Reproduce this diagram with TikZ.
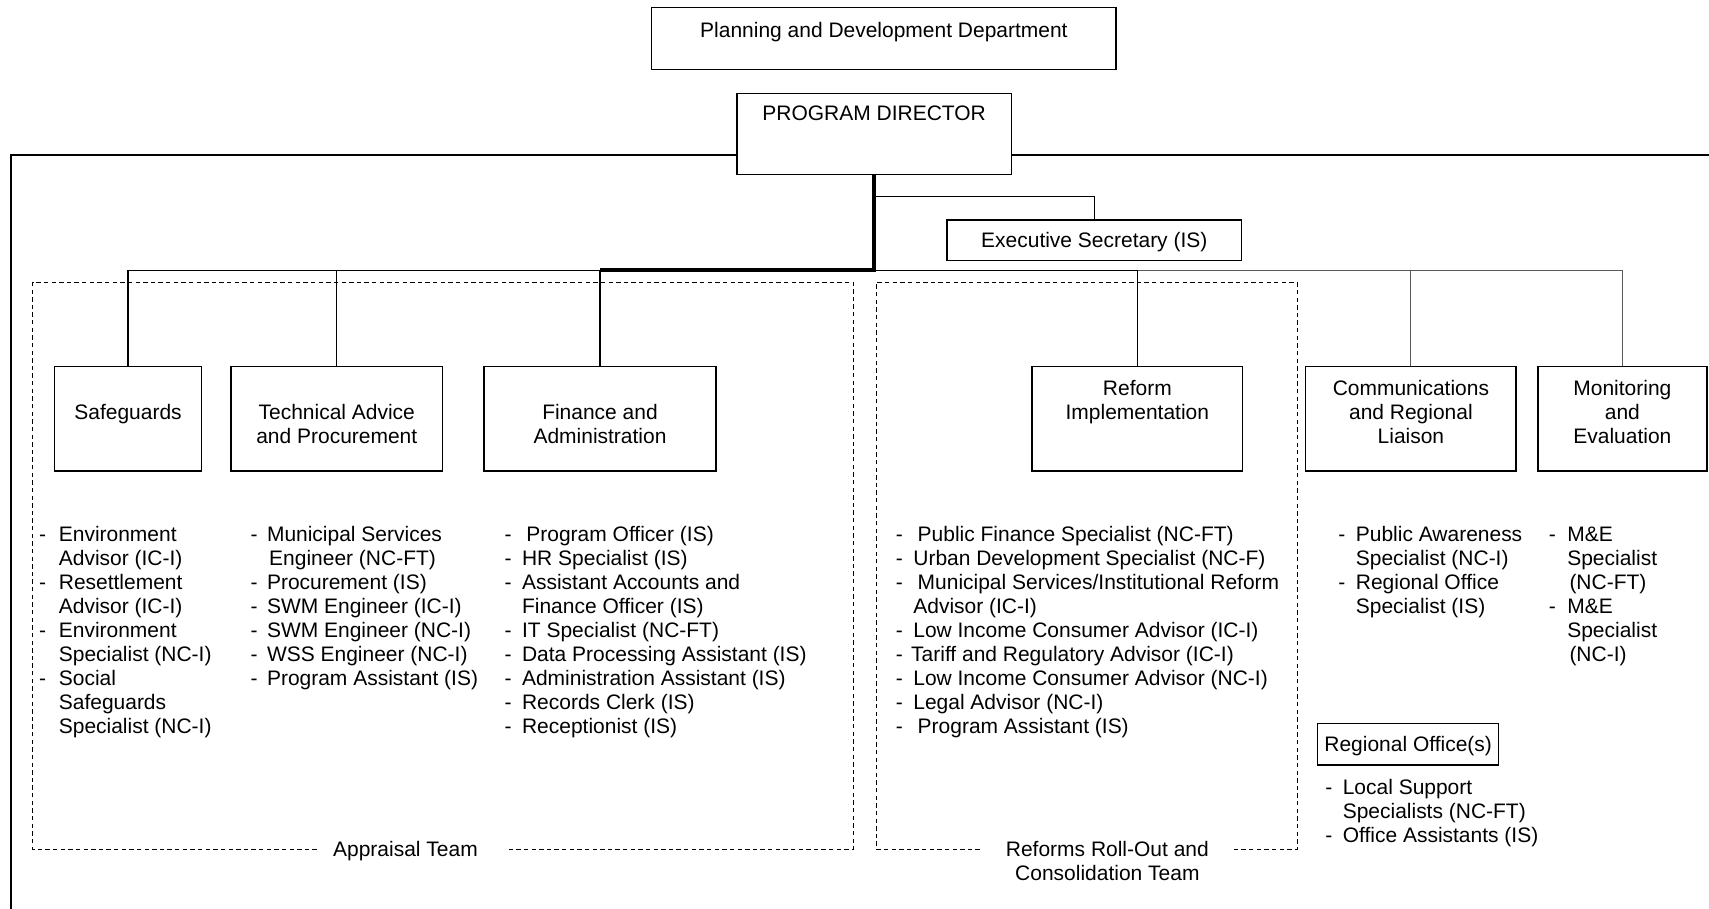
\documentclass[tikz,border=0pt]{standalone}
\usepackage{fontspec}
\setmainfont{Liberation Sans}
\newcommand\dsh[1]{\makebox[#1][l]{-}}
\newcommand\ind[1]{\hspace*{#1}}
\newcommand\fs{\fontsize{19.25}{22.1}\selectfont}
\begin{document}
\begin{tikzpicture}[x=1pt,y=-1pt,
  every node/.style={inner sep=0pt,outer sep=0pt,font=\fs},
  box/.style={draw,line width=1.3pt,fill=white},
  conn/.style={line width=1.2pt},
  thickconn/.style={line width=3.4pt},
  grayconn/.style={line width=0.9pt,draw=black!65},
  frame/.style={line width=2pt},
  dashbox/.style={line width=0.9pt,dash pattern=on 4pt off 3pt},
  lst/.style={anchor=base west,align=left},
  ttl/.style={anchor=base,align=center}]
\useasboundingbox (0,0) rectangle (1568,834);

% coordinates
\coordinate (fl) at (10,142);
\coordinate (fb) at (10,834);
\coordinate (fr) at (1568,142);
\coordinate (bus) at (802,248);
\coordinate (esy) at (802,180);

% top boxes
\node[box,minimum width=426pt,minimum height=57pt] (pdd) at (811,35.5) {};
\node[anchor=base] (pddt) at (811,34.5) {Planning and Development Department};

% frame
\draw[frame] (676,142) -- (fl) -- (fb);
\draw[frame] (928,142) -- (fr);

\node[box,minimum width=252pt,minimum height=74pt] (pd) at (802,123) {};
\node[anchor=base] (pdt) at (802,110.5) {PROGRAM DIRECTOR};

\node[box,minimum width=270pt,minimum height=37pt] (es) at (1004,220.5) {};
\node[anchor=base] (est) at (1004,227.5) {Executive Secretary (IS)};

% unit boxes
\node[box,minimum width=135pt,minimum height=96pt] (sg) at (117.5,384) {};
\node[box,minimum width=194pt,minimum height=96pt] (ta) at (309,384) {};
\node[box,minimum width=213pt,minimum height=96pt] (fa) at (550.5,384) {};
\node[box,minimum width=193pt,minimum height=96pt] (ri) at (1043.5,384) {};
\node[box,minimum width=193pt,minimum height=96pt] (cr) at (1294.5,384) {};
\node[box,minimum width=155pt,minimum height=96pt] (me) at (1488.5,384) {};

% titles (base anchor = baseline of the last line)
\node[ttl] (sgt) at (117.5,384.5) {Safeguards};
\node[ttl] (tat) at (309,406.6) {Technical Advice\\and Procurement};
\node[ttl] (fat) at (550.5,406.6) {Finance and\\Administration};
\node[ttl] (rit) at (1043.5,384.6) {Reform\\Implementation};
\node[ttl] (crt) at (1294.5,406.7) {Communications\\and Regional\\Liaison};
\node[ttl] (met) at (1488.5,406.7) {Monitoring\\and\\Evaluation};

% connectors
\draw[conn] (sg.north |- bus) -- (ri.north |- bus);
\draw[grayconn] (ri.north |- bus) -- (me.north |- bus);
\draw[conn] (sg.north |- bus) -- (sg.north);
\draw[conn] (ta.north |- bus) -- (ta.north);
\draw[conn] (fa.north |- bus) -- (fa.north);
\draw[conn] (ri.north |- bus) -- (ri.north);
\draw[grayconn] (cr.north |- bus) -- (cr.north);
\draw[grayconn] (me.north |- bus) -- (me.north);
\draw[thickconn] (pd.south) -- (bus) -- (fa.north |- bus);
\draw[conn] (esy) -| (es.north);

% dashed team frames
\node[anchor=base] (apl) at (372,785.5) {Appraisal Team};
\draw[dashbox] ([xshift=-15pt]apl.west |- 0,779) -- (30,779) -- (30,259) -- (783,259) -- (783,779) -- ([xshift=26pt]apl.east |- 0,779);
\node[ttl] (rcl) at (1016,807.6) {Reforms Roll-Out and\\Consolidation Team};
\draw[dashbox] (899,779) -- (804,779) -- (804,259) -- (1190,259) -- (1190,779) -- (1131,779);

% lists
\node[lst] (sgl) at (36,673.3) {\dsh{18pt}Environment\\\ind{18pt}Advisor (IC-I)\\\dsh{18pt}Resettlement\\\ind{18pt}Advisor (IC-I)\\\dsh{18pt}Environment\\\ind{18pt}Specialist (NC-I)\\\dsh{18pt}Social\\\ind{18pt}Safeguards\\\ind{18pt}Specialist (NC-I)};
\node[lst] (tal) at (230,629.1) {\dsh{15pt}Municipal Services\\\ind{17pt}Engineer (NC-FT)\\\dsh{15pt}Procurement (IS)\\\dsh{15pt}SWM Engineer (IC-I)\\\dsh{15pt}SWM Engineer (NC-I)\\\dsh{15pt}WSS Engineer (NC-I)\\\dsh{15pt}Program Assistant (IS)};
\node[lst] (fal) at (463,673.3) {\dsh{20pt}Program Officer (IS)\\\dsh{16pt}HR Specialist (IS)\\\dsh{16pt}Assistant Accounts and\\\ind{16pt}Finance Officer (IS)\\\dsh{16pt}IT Specialist (NC-FT)\\\dsh{16pt}Data Processing Assistant (IS)\\\dsh{16pt}Administration Assistant (IS)\\\dsh{16pt}Records Clerk (IS)\\\dsh{16pt}Receptionist (IS)};
\node[lst] (ril) at (822,673.3) {\dsh{20pt}Public Finance Specialist (NC-FT)\\\dsh{16pt}Urban Development Specialist (NC-F)\\\dsh{20pt}Municipal Services/Institutional Reform\\\ind{16pt}Advisor (IC-I)\\\dsh{16pt}Low Income Consumer Advisor (IC-I)\\\dsh{14pt}Tariff and Regulatory Advisor (IC-I)\\\dsh{16pt}Low Income Consumer Advisor (NC-I)\\\dsh{16pt}Legal Advisor (NC-I)\\\dsh{20pt}Program Assistant (IS)};
\node[lst] (crl) at (1228,562.8) {\dsh{16pt}Public Awareness\\\ind{16pt}Specialist (NC-I)\\\dsh{16pt}Regional Office\\\ind{16pt}Specialist (IS)};
\node[lst] (mel) at (1421,607) {\dsh{17pt}M\&E\\\ind{17pt}Specialist\\\ind{19pt}(NC-FT)\\\dsh{17pt}M\&E\\\ind{17pt}Specialist\\\ind{19pt}(NC-I)};

% regional office
\node[box,minimum width=166pt,minimum height=38pt] (ro) at (1292,683) {};
\node[anchor=base] (rot) at (1292,689.5) {Regional Office(s)};
\node[lst] (rol) at (1216,772.7) {\dsh{16pt}Local Support\\\ind{16pt}Specialists (NC-FT)\\\dsh{16pt}Office Assistants (IS)};
\end{tikzpicture}
\end{document}
